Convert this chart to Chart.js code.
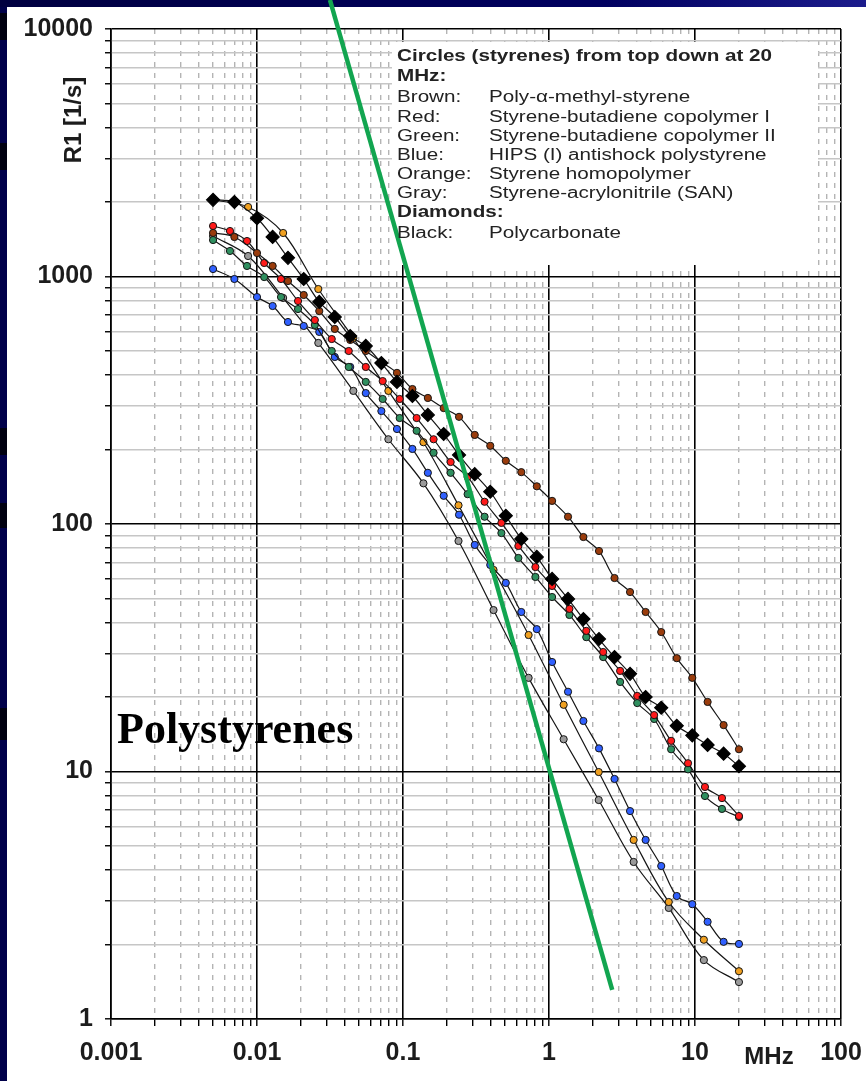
<!DOCTYPE html>
<html>
<head>
<meta charset="utf-8">
<title>R1 dispersion - polystyrenes</title>
<script src="https://cdn.jsdelivr.net/npm/chart.js@4.4.1/dist/chart.umd.min.js"></script>
<style>
    html, body { margin: 0; padding: 0; background: #00004a; }
    #r1Chart { display: block; }
</style>
</head>
<body>
<canvas id="r1Chart" width="866" height="1081"></canvas>
<script>
// Frequencies in MHz - the samples were measured on three different grids
const freqFine = [0.005, 0.007, 0.01, 0.0128, 0.0163, 0.0209, 0.0267, 0.0341, 0.0435, 0.0556, 0.0711, 0.0909, 0.116, 0.148, 0.19, 0.242, 0.31, 0.396, 0.506, 0.646, 0.825, 1.05, 1.35, 1.72, 2.2, 2.81, 3.59, 4.59, 5.87, 7.5, 9.58, 12.2, 15.7, 20];
const freqMid = [0.005, 0.00653, 0.00854, 0.0112, 0.0146, 0.0191, 0.0249, 0.0325, 0.0425, 0.0556, 0.0726, 0.0949, 0.124, 0.162, 0.212, 0.277, 0.362, 0.472, 0.617, 0.807, 1.05, 1.38, 1.8, 2.35, 3.07, 4.02, 5.25, 6.86, 8.96, 11.7, 15.3, 20];
const freqCoarse = [0.005, 0.00869, 0.0151, 0.0263, 0.0457, 0.0794, 0.138, 0.24, 0.417, 0.725, 1.26, 2.19, 3.8, 6.61, 11.5, 20];

// R1 in 1/s
const polycarbonate = [2040, 2000, 1720, 1445, 1190, 977, 789, 686, 575, 524, 447, 375, 329, 276, 231, 190, 159, 135, 108, 87, 73.6, 60, 49.8, 41.3, 34.3, 29, 24.8, 20, 18.1, 15.3, 14, 12.8, 11.8, 10.5];
const polyMethylStyrene = [1500, 1444, 1244, 1103, 959, 842, 725, 614, 554, 500, 451, 408, 351, 323, 294, 271, 229, 207, 180, 162, 142, 124, 107, 88.6, 77.8, 60.5, 53.1, 44.1, 36.6, 28.7, 23.9, 19.1, 15.4, 12.3];
const hips = [1072, 977, 826, 760, 655, 631, 597, 473, 431, 338, 286, 242, 201, 161, 130, 109, 82.3, 68.3, 57.8, 44.1, 37.6, 27.7, 21, 16, 12.4, 9.33, 6.92, 5.29, 4.15, 3.14, 2.91, 2.47, 2.05, 2.01];
const sbCopolymer1 = [1600, 1527, 1391, 1134, 977, 796, 667, 559, 500, 431, 378, 320, 268, 220, 178, 155, 123, 101, 81.5, 67, 56.2, 45.4, 37, 30.4, 25.5, 20.2, 16.9, 13.3, 10.8, 8.66, 7.81, 6.61];
const sbCopolymer2 = [1404, 1268, 1103, 995, 826, 739, 637, 500, 431, 375, 320, 268, 238, 194, 161, 132, 107, 91.9, 72.9, 61.1, 50.7, 42.9, 34.9, 29, 23, 18.9, 16.3, 12.3, 10.2, 7.96, 7.06, 6.55];
const styreneHomo = [2038, 1909, 1499, 890, 564, 345, 214, 119, 65.2, 35.6, 18.6, 9.95, 5.29, 2.97, 2.09, 1.56];
const san = [1457, 1210, 819, 539, 345, 220, 146, 85.4, 44.9, 23.9, 13.5, 7.67, 4.31, 2.81, 1.73, 1.41];

// the straight green guide line
const guideX = [0.0316, 2.71];
const guideY = [13100, 1.31];

const xMajor = [0.001, 0.01, 0.1, 1, 10, 100];
const xTickLabels = ['0.001', '0.01', '0.1', '1', '10', '100'];
const yMajor = [1, 10, 100, 1000, 10000];
const yTickLabels = ['1', '10', '100', '1000', '10000'];

const legendLines = [
    ['Brown:', 'Poly-\u03b1-methyl-styrene'],
    ['Red:', 'Styrene-butadiene copolymer I'],
    ['Green:', 'Styrene-butadiene copolymer II'],
    ['Blue:', 'HIPS (I) antishock polystyrene'],
    ['Orange:', 'Styrene homopolymer'],
    ['Gray:', 'Styrene-acrylonitrile (SAN)']
];

function toPoints(xs, ys) {
    return xs.map((x, i) => ({ x, y: ys[i] }));
}

function logTicks(majors) {
    const ticks = [];
    majors.forEach((v, i) => {
        ticks.push({ value: v, major: true });
        if (i === majors.length - 1) return;
        for (let m = 2; m <= 9; m++) ticks.push({ value: +(m * v).toPrecision(6), major: false });
    });
    return ticks;
}

function styreneSet(label, xs, ys, fill) {
    return {
        label,
        data: toPoints(xs, ys),
        borderColor: '#151515',
        borderWidth: 1.2,
        tension: 0.35,
        pointRadius: 3.6,
        pointHoverRadius: 3.6,
        pointBackgroundColor: fill,
        pointBorderColor: '#151515',
        pointBorderWidth: 1
    };
}

const framePlugin = {
    id: 'frame',
    beforeDraw(chart) {
        const { ctx, width, height } = chart;
        ctx.save();
        ctx.fillStyle = '#00004a';
        ctx.fillRect(0, 0, width, height);
        const g = ctx.createLinearGradient(0, 0, width, 0);
        g.addColorStop(0, '#000040');
        g.addColorStop(0.7, '#000060');
        g.addColorStop(1, '#1c1c8c');
        ctx.fillStyle = g;
        ctx.fillRect(0, 0, width, 7);
        ctx.fillStyle = '#000010';
        [[13, 40], [143, 170], [428, 455], [503, 528], [708, 740]].forEach(([a, b]) => ctx.fillRect(0, a, 7, b - a));
        ctx.fillStyle = '#ffffff';
        ctx.fillRect(7, 7, width - 7, height - 7);
        ctx.restore();
    },
    beforeDatasetsDraw(chart) {
        // white box behind the legend text hides the grid
        const ctx = chart.ctx;
        ctx.save();
        ctx.fillStyle = '#ffffff';
        ctx.fillRect(392, 42, 426, 223);
        ctx.restore();
    }
};

// the legend text in the original is stretched sideways
function wideText(ctx, text, x, y) {
    ctx.save();
    ctx.translate(x, y);
    ctx.scale(1.29, 1);
    ctx.fillText(text, 0, 0);
    ctx.restore();
}

const textPlugin = {
    id: 'texts',
    afterDraw(chart) {
        const ctx = chart.ctx;
        ctx.save();
        ctx.fillStyle = '#1c1c1c';

        // axis titles
        ctx.font = 'bold 24px "Liberation Sans", Arial, sans-serif';
        ctx.textAlign = 'center';
        ctx.textBaseline = 'middle';
        ctx.save();
        ctx.translate(74, 120);
        ctx.rotate(-Math.PI / 2);
        ctx.fillText('R1 [1/s]', 0, 0);
        ctx.restore();
        ctx.fillText('MHz', 769, 1057);

        // legend block
        ctx.textAlign = 'left';
        ctx.fillStyle = '#222222';
        ctx.font = 'bold 16px "Liberation Sans", Arial, sans-serif';
        wideText(ctx, 'Circles (styrenes) from top down at 20', 397, 57);
        wideText(ctx, 'MHz:', 397, 77);
        ctx.font = '16px "Liberation Sans", Arial, sans-serif';
        legendLines.forEach(([k, v], i) => {
            const y = 98 + i * 19.2;
            wideText(ctx, k, 397, y);
            wideText(ctx, v, 489, y);
        });
        ctx.font = 'bold 16px "Liberation Sans", Arial, sans-serif';
        wideText(ctx, 'Diamonds:', 397, 213);
        ctx.font = '16px "Liberation Sans", Arial, sans-serif';
        wideText(ctx, 'Black:', 397, 234);
        wideText(ctx, 'Polycarbonate', 489, 234);

        ctx.fillStyle = '#000000';
        ctx.font = 'bold 44px "Liberation Serif", "Times New Roman", serif';
        ctx.textBaseline = 'alphabetic';
        ctx.fillText('Polystyrenes', 117, 743);
        ctx.restore();
    }
};

const tickFont = { family: '"Liberation Sans", Arial, sans-serif', size: 25, weight: 'bold' };

new Chart(document.getElementById('r1Chart').getContext('2d'), {
    type: 'line',
    data: {
        datasets: [
            {
                label: 'guide',
                data: toPoints(guideX, guideY),
                borderColor: '#12a550',
                borderWidth: 4.5,
                pointRadius: 0,
                clip: false
            },
            {
                label: 'Polycarbonate',
                data: toPoints(freqFine, polycarbonate),
                borderColor: '#151515',
                borderWidth: 1.2,
                tension: 0.35,
                pointStyle: 'rectRot',
                pointRadius: 6.5,
                pointHoverRadius: 6.5,
                pointBackgroundColor: '#000000',
                pointBorderColor: '#000000'
            },
            styreneSet('Poly-alpha-methyl-styrene', freqFine, polyMethylStyrene, '#9a3c0c'),
            styreneSet('Styrene-butadiene copolymer I', freqMid, sbCopolymer1, '#ff1a1a'),
            styreneSet('Styrene-butadiene copolymer II', freqMid, sbCopolymer2, '#2f8f5f'),
            styreneSet('HIPS (I) antishock polystyrene', freqFine, hips, '#3060ff'),
            styreneSet('Styrene homopolymer', freqCoarse, styreneHomo, '#f0a020'),
            styreneSet('Styrene-acrylonitrile (SAN)', freqCoarse, san, '#9a9a9a')
        ]
    },
    options: {
        responsive: false,
        devicePixelRatio: 1,
        animation: false,
        layout: { padding: { left: 0, right: 25, top: 29, bottom: 0 } },
        scales: {
            x: {
                type: 'logarithmic',
                min: 0.001,
                max: 100,
                afterBuildTicks: s => { s.ticks = logTicks(xMajor); },
                afterFit: s => {
                    s.height = 62;
                    s.paddingLeft = 0;
                    s.paddingRight = 0;
                },
                grid: {
                    color: c => (c.tick && c.tick.major) ? '#000000' : '#b4b4b4',
                    lineWidth: c => (c.tick && c.tick.major) ? 1.6 : 1.4,
                    tickColor: '#000000',
                    tickLength: 7,
                    tickWidth: 1.4
                },
                border: {
                    color: '#000000',
                    width: 1.6,
                    dash: c => (c.tick && !c.tick.major) ? [5, 6] : []
                },
                ticks: {
                    autoSkip: false,
                    maxRotation: 0,
                    minRotation: 0,
                    padding: 12,
                    color: '#1c1c1c',
                    font: tickFont,
                    callback: v => {
                        const i = xMajor.indexOf(v);
                        return i >= 0 ? xTickLabels[i] : '';
                    }
                }
            },
            y: {
                type: 'logarithmic',
                min: 1,
                max: 10000,
                afterBuildTicks: s => { s.ticks = logTicks(yMajor); },
                afterFit: s => {
                    s.width = 111;
                    s.paddingTop = 0;
                    s.paddingBottom = 0;
                },
                grid: {
                    color: c => (c.tick && c.tick.major) ? '#000000' : '#c6c6c6',
                    lineWidth: c => (c.tick && c.tick.major) ? 1.6 : 1.5,
                    tickColor: '#000000',
                    tickLength: 6,
                    tickWidth: 1.4
                },
                border: { color: '#000000', width: 1.6 },
                ticks: {
                    autoSkip: false,
                    padding: 12,
                    color: '#1c1c1c',
                    font: tickFont,
                    callback: v => {
                        const i = yMajor.indexOf(v);
                        return i >= 0 ? yTickLabels[i] : '';
                    }
                }
            }
        },
        plugins: {
            legend: { display: false },
            tooltip: { enabled: false }
        }
    },
    plugins: [framePlugin, textPlugin]
});
</script>
</body>
</html>
